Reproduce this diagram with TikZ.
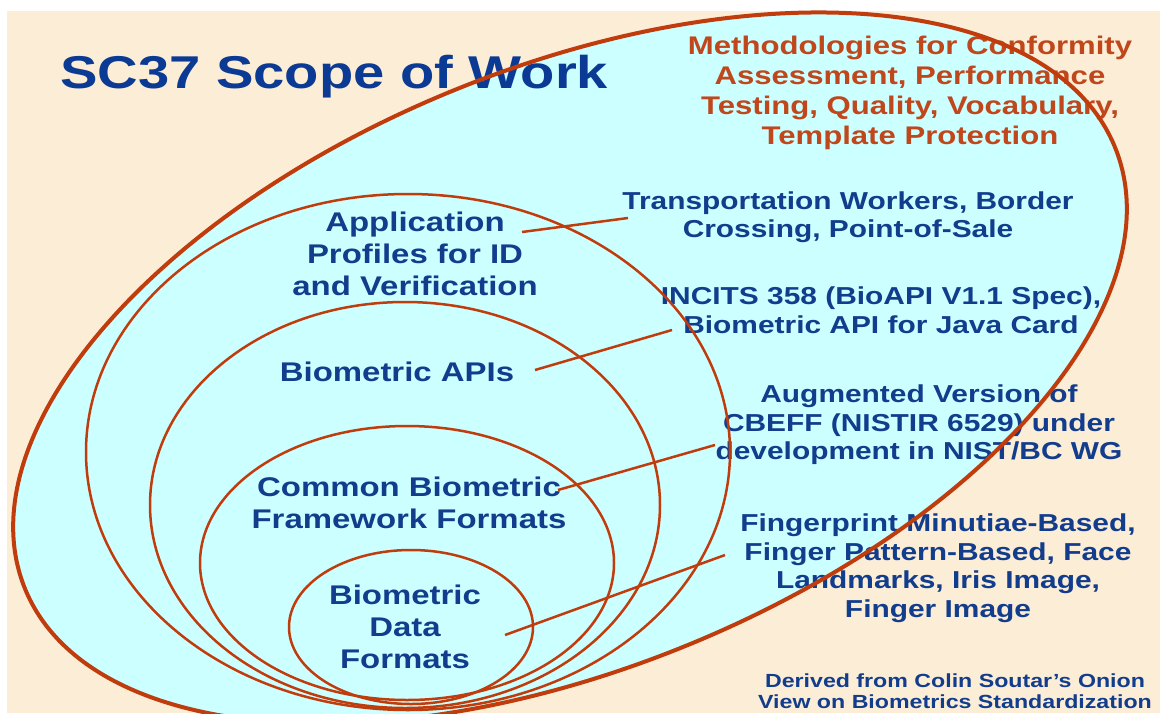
\documentclass[tikz,border=0pt]{standalone}
\usepackage{fontspec}
\setmainfont{Liberation Sans}[FakeStretch=1.22]
\definecolor{bg}{HTML}{FBEDD6}
\definecolor{cy}{HTML}{CCFFFF}
\definecolor{rl}{HTML}{C03C0C}
\definecolor{tb}{HTML}{123C8C}
\definecolor{tt}{HTML}{0B3A94}
\definecolor{tr}{HTML}{C0471C}
\begin{document}
\begin{tikzpicture}[x=1pt,y=-1pt,
  ring/.style={draw=rl, line width=2.5pt},
  outerring/.style={draw=rl, line width=4pt},
  link/.style={draw=rl, line width=2.5pt},
  lbl/.style={text=tb, font=\bfseries\fontsize{27}{32}\selectfont, align=center, inner sep=0pt},
  desc/.style={text=tb, font=\bfseries\fontsize{24.5}{28.5}\selectfont, align=center, inner sep=0pt},
  meth/.style={text=tr, font=\bfseries\fontsize{25.5}{30}\selectfont, align=center, inner sep=0pt},
  foot/.style={text=tb, font=\bfseries\fontsize{19}{21}\selectfont, align=center, inner sep=0pt},
  ttl/.style={text=tt, font=\bfseries\fontsize{46}{50}\selectfont, inner sep=0pt}]
\useasboundingbox (0,0) rectangle (1160,713);
\fill[white] (0,0) rectangle (1160,713);
\fill[bg] (7,11) rectangle (1160,713);
% onion fill
\fill[cy, rotate around={22:(570,368)}] (570,368) ellipse [x radius=588, y radius=301];
% texts
\node[ttl, anchor=base west] (title) at (60,88) {SC37 Scope of Work};
\node[meth] (meth) at (910,93) {Methodologies for Conformity\\Assessment, Performance\\Testing, Quality, Vocabulary,\\Template Protection};
\node[desc] (trans) at (848,217) {Transportation Workers, Border\\Crossing, Point-of-Sale};
\node[desc] (incits) at (881,310) {INCITS 358 (BioAPI V1.1 Spec),\\Biometric API for Java Card};
\node[desc] (aug) at (919,425) {Augmented Version of\\CBEFF (NISTIR 6529) under\\development in NIST/BC WG};
\node[desc] (finger) at (938,568) {Fingerprint Minutiae-Based,\\Finger Pattern-Based, Face\\Landmarks, Iris Image,\\Finger Image};
\node[lbl] (app) at (415,254) {Application\\Profiles for ID\\and Verification};
\node[lbl] (api) at (397,372) {Biometric APIs};
\node[lbl] (cbf) at (409,503) {Common Biometric\\Framework Formats};
\node[lbl] (bdf) at (405,627) {Biometric\\Data\\Formats};
\node[foot] (src) at (955,691) {Derived from Colin Soutar's Onion\\View on Biometrics Standardization};
% rings
\draw[outerring, rotate around={22:(570,368)}] (570,368) ellipse [x radius=588, y radius=301];
\draw[ring] (408,452) ellipse [x radius=322, y radius=258];
\draw[ring] (405,505) ellipse [x radius=255, y radius=203];
\draw[ring] (407,563) ellipse [x radius=207, y radius=137];
\draw[ring] (411,627) ellipse [x radius=122, y radius=77];
% connectors
\coordinate (a1) at (522,232); \coordinate (b1) at (628,218);
\coordinate (a2) at (535,370); \coordinate (b2) at (672,330);
\coordinate (a3) at (558,490); \coordinate (b3) at (715,445);
\coordinate (a4) at (505,635); \coordinate (b4) at (725,555);
\draw[link] (a1) -- (b1);
\draw[link] (a2) -- (b2);
\draw[link] (a3) -- (b3);
\draw[link] (a4) -- (b4);
\end{tikzpicture}
\end{document}
